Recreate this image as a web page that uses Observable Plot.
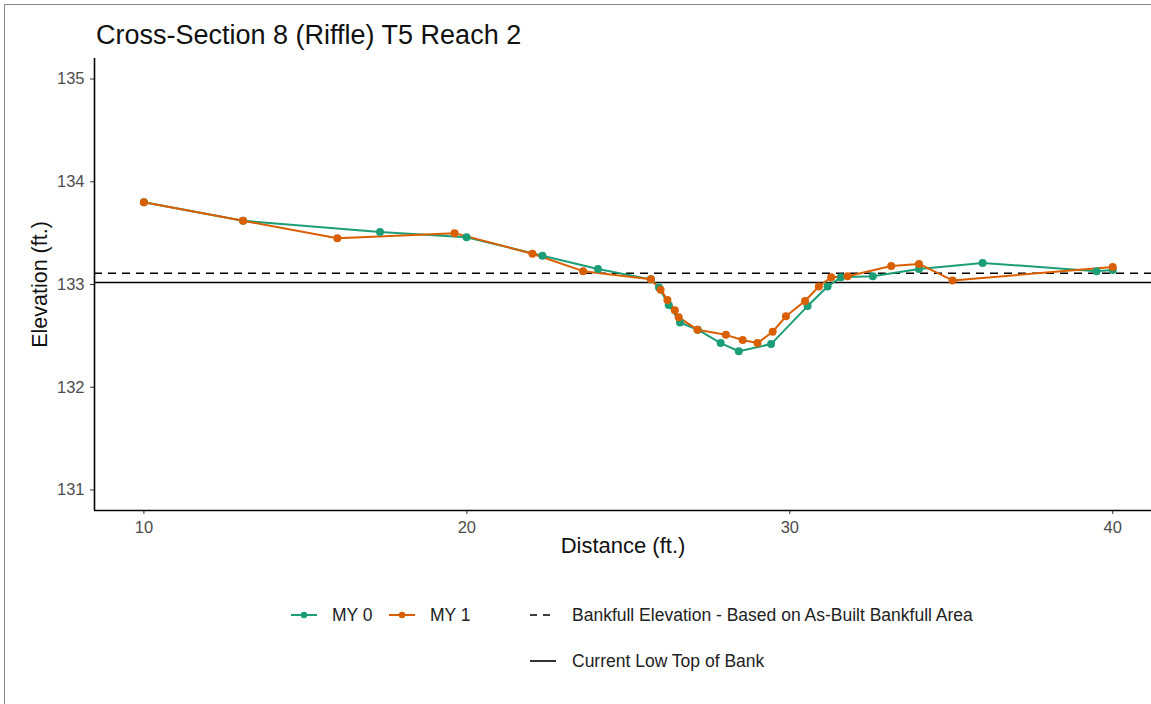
<!DOCTYPE html>
<html>
<head>
<meta charset="utf-8">
<script src="https://cdn.jsdelivr.net/npm/d3@7"></script>
<script src="https://cdn.jsdelivr.net/npm/@observablehq/plot@0.6"></script>
<style>
  html, body { margin: 0; padding: 0; background: #fff; }
  body { width: 1151px; height: 704px; overflow: hidden; font-family: "Liberation Sans", Arial, sans-serif; }
  #wrap { position: relative; width: 1151px; height: 704px; }
  #border { position: absolute; left: 4px; top: 4px; width: 1160px; height: 720px; border: 1px solid #8a8a8a; box-sizing: border-box; }
  #title { position: absolute; left: 96px; top: 19px; font-size: 27px; color: #111; white-space: nowrap; line-height: 32px; }
  #chart { position: absolute; left: 0; top: 0; }
  .leg { position: absolute; font-size: 17.5px; color: #222; white-space: nowrap; display: flex; align-items: center; line-height: 20px; }
  .leg svg { display: block; margin-right: 14px; }
</style>
</head>
<body>
<div id="wrap">
  <div id="border"></div>
  <div id="chart"></div>
  <div id="title">Cross-Section 8 (Riffle) T5 Reach 2</div>
  <div id="legend"></div>
</div>
<script>
// ---- data ----
const seriesNames = ["MY 0", "MY 1"];
const seriesColors = ["#1b9e77", "#d95f02"];

const my0Distance = [10.0, 13.07, 17.31, 19.99, 22.34, 24.06, 25.70, 25.95, 26.25, 26.60, 27.15, 27.86, 28.42, 29.42, 30.55, 31.17, 31.58, 32.57, 34.0, 35.97, 39.5, 40.0];
const my0Elevation = [133.80, 133.62, 133.51, 133.46, 133.28, 133.15, 133.05, 132.97, 132.80, 132.63, 132.56, 132.43, 132.35, 132.42, 132.79, 132.98, 133.07, 133.08, 133.15, 133.21, 133.13, 133.14];

const my1Distance = [10.0, 13.07, 15.99, 19.62, 22.03, 23.6, 25.70, 26.0, 26.21, 26.44, 26.56, 27.14, 28.02, 28.54, 29.0, 29.47, 29.88, 30.47, 30.9, 31.28, 31.79, 33.14, 34.0, 35.04, 40.0];
const my1Elevation = [133.80, 133.62, 133.45, 133.50, 133.30, 133.13, 133.05, 132.95, 132.85, 132.75, 132.68, 132.56, 132.51, 132.46, 132.43, 132.54, 132.69, 132.84, 132.98, 133.07, 133.08, 133.18, 133.20, 133.04, 133.17];

const bankfullElevation = 133.11;
const lowTopOfBank = 133.02;

const xTicks = [10, 20, 30, 40];
const yTicks = [131, 132, 133, 134, 135];

const refNames = ["Bankfull Elevation - Based on As-Built Bankfull Area", "Current Low Top of Bank"];

// ---- build table ----
const rows = [
  ...my0Distance.map((d, i) => ({series: "MY 0", distance: d, elevation: my0Elevation[i]})),
  ...my1Distance.map((d, i) => ({series: "MY 1", distance: d, elevation: my1Elevation[i]}))
];

const xDomain = [8.47, 41.2];
const yDomain = [130.8, 135.2];

const chart = Plot.plot({
  width: 1151,
  height: 568,
  marginLeft: 94,
  marginRight: 0,
  marginTop: 58,
  marginBottom: 58,
  style: {fontFamily: "Liberation Sans, Arial, sans-serif", background: "transparent", overflow: "visible"},
  x: {domain: xDomain},
  y: {domain: yDomain},
  color: {domain: seriesNames, range: seriesColors},
  marks: [
    Plot.axisX({ticks: xTicks, tickFormat: d3.format("d"), tickSize: 4, tickPadding: 7, fontSize: 16.5, fill: "#4d4d4d", stroke: "#333", label: null}),
    Plot.axisY({ticks: yTicks, tickFormat: d3.format("d"), tickSize: 4, tickPadding: 6, fontSize: 16.5, fill: "#4d4d4d", stroke: "#333", label: null}),
    Plot.ruleY([bankfullElevation], {stroke: "#000", strokeWidth: 1.6, strokeDasharray: "8,6"}),
    Plot.ruleY([lowTopOfBank], {stroke: "#000", strokeWidth: 1.6}),
    Plot.line(rows, {x: "distance", y: "elevation", z: "series", stroke: "series", strokeWidth: 2}),
    Plot.dot(rows, {x: "distance", y: "elevation", fill: "series", r: 4}),
    Plot.ruleX([xDomain[0]], {stroke: "#000", strokeWidth: 1.6}),
    Plot.ruleY([yDomain[0]], {stroke: "#000", strokeWidth: 1.6}),
    Plot.text(["Distance (ft.)"], {frameAnchor: "bottom", textAnchor: "middle", dy: 42, fontSize: 22, fill: "#111"}),
    Plot.text(["Elevation (ft.)"], {frameAnchor: "left", textAnchor: "middle", rotate: -90, dx: -54, fontSize: 21.5, fill: "#111"})
  ]
});
document.getElementById("chart").appendChild(chart);

// ---- legend ----
const legend = document.getElementById("legend");
function addItem(left, top, symbolSvg, label) {
  const d = document.createElement("div");
  d.className = "leg";
  d.style.left = left + "px";
  d.style.top = top + "px";
  d.innerHTML = symbolSvg + "<span>" + label + "</span>";
  legend.appendChild(d);
}
function seriesSym(c) {
  return `<svg width="28" height="14"><line x1="1" y1="7" x2="27" y2="7" stroke="${c}" stroke-width="2"/><circle cx="14" cy="7" r="3.2" fill="${c}"/></svg>`;
}
addItem(290, 605, seriesSym(seriesColors[0]), seriesNames[0]);
addItem(388, 605, seriesSym(seriesColors[1]), seriesNames[1]);
addItem(530, 605, `<svg width="28" height="14"><line x1="0" y1="7" x2="26" y2="7" stroke="#000" stroke-width="1.6" stroke-dasharray="7,6"/></svg>`, refNames[0]);
addItem(530, 651, `<svg width="28" height="14"><line x1="0" y1="7" x2="26" y2="7" stroke="#000" stroke-width="1.6"/></svg>`, refNames[1]);
</script>
</body>
</html>
